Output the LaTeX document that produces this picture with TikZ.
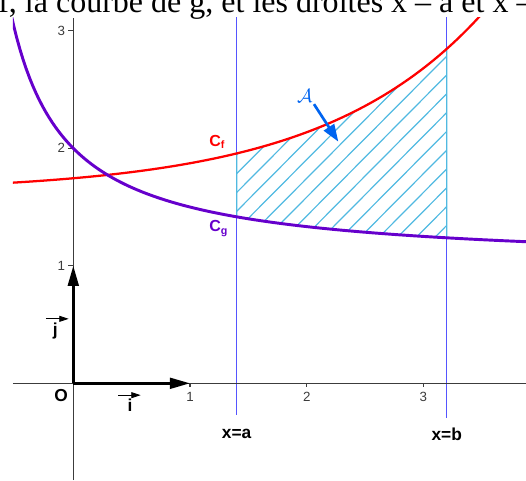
\documentclass[tikz,border=0pt]{standalone}
\usepackage{fontspec}
\setmainfont{Liberation Serif}
\setsansfont{Liberation Sans}
\usepackage{xcolor}
\definecolor{fred}{RGB}{255,0,0}
\definecolor{gpurple}{RGB}{102,0,204}
\definecolor{lineblue}{RGB}{85,85,255}
\definecolor{hatchblue}{RGB}{80,185,225}
\definecolor{areablue}{RGB}{0,100,240}
\definecolor{axisgray}{RGB}{60,60,60}
\usepackage{tikz}
\usetikzlibrary{arrows.meta}

\begin{document}
\begin{tikzpicture}[x=87.5pt,y=88.1pt,
  declare function={f(\x)=1.625+0.12*exp(0.725*\x); g(\x)=1+1/(\x+1);},
  axis/.style={draw=axisgray,line width=1pt},
  tickmark/.style={draw=axisgray,line width=0.8pt},
  ticklab/.style={font=\sffamily\fontsize{10}{12}\selectfont,text=axisgray,inner sep=0pt},
  lab/.style={font=\sffamily\bfseries\fontsize{13}{15}\selectfont,inner sep=0pt},
  unitvec/.style={line width=2pt,-{Triangle[length=15pt,width=8pt]}},
  vecbar/.style={line width=0.6pt,-{Triangle[length=7pt,width=4.5pt]}},
  bound/.style={draw=lineblue,line width=1.1pt},
  hatch/.style={draw=hatchblue,line width=0.9pt},
]
  \useasboundingbox (-0.628,-0.823) rectangle (3.879,3.262);

  %% caption line, cut by the page edge
  \node[anchor=base west,inner sep=0pt,font=\fontsize{24}{28}\selectfont] (caption)
    at (-0.645,3.156) {f, la courbe de g, et les droites x – a et x –};

  \begin{scope}
    \clip (-0.517,-0.823) rectangle (3.879,3.109);

    %% lines x=a and x=b
    \coordinate (atop) at (1.4,3.2);
    \coordinate (abot) at (1.4,-0.27);
    \coordinate (btop) at (3.2,3.2);
    \coordinate (bbot) at (3.2,-0.293);
    \draw[bound] (atop) -- (abot);
    \draw[bound] (btop) -- (bbot);

    %% hatched area between the curves
    \begin{scope}
      \clip plot[domain=1.4:3.2,samples=40] (\x,{f(\x)})
        -- plot[domain=3.2:1.4,samples=40] (\x,{g(\x)}) -- cycle;
      \foreach \k in {-10,...,14}
        \draw[hatch] (1.3,{1.3-0.576+0.16*\k}) -- (3.3,{3.3-0.576+0.16*\k});
    \end{scope}
    \draw[hatch] plot[domain=1.4:3.2,samples=40] (\x,{f(\x)})
      -- plot[domain=3.2:1.4,samples=40] (\x,{g(\x)}) -- cycle;

    %% axes and ticks
    \draw[axis] (-0.517,0) -- (3.879,0);
    \draw[axis] (0,-0.823) -- (0,3.109);
    \foreach \t in {1,2,3}{
      \draw[tickmark] (\t,0) -- (\t,-0.034);
      \node[ticklab,anchor=north] (xt\t) at (\t,-0.071) {\t};
      \draw[tickmark] (0,\t) -- (-0.043,\t);
      \node[ticklab,anchor=east] (yt\t) at (-0.069,\t) {\t};
    }

    %% curves
    \draw[fred,line width=1.7pt] plot[domain=-0.52:3.6,samples=80] (\x,{f(\x)});
    \draw[gpurple,line width=2.2pt] plot[domain=-0.54:3.9,samples=160] (\x,{g(\x)});
  \end{scope}

  %% unit vectors
  \coordinate (O) at (0,0);
  \coordinate (I) at (1,0);
  \coordinate (J) at (0,1);
  \draw[unitvec] (O) -- (I);
  \draw[unitvec] (O) -- (J);

  \node[lab] (olab) at (-0.105,-0.102) {O};
  \node[lab] (ilab) at (0.486,-0.185) {i};
  \draw[vecbar] ([xshift=-9pt,yshift=2.5pt]ilab.north) -- ([xshift=8pt,yshift=2.5pt]ilab.north);
  \node[lab] (jlab) at (-0.154,0.449) {j};
  \draw[vecbar] ([xshift=-7pt,yshift=2.5pt]jlab.north) -- ([xshift=10pt,yshift=2.5pt]jlab.north);

  %% curve names and line names
  \node[lab,text=fred,anchor=base west,font=\sffamily\bfseries\fontsize{12}{14}\selectfont] (cf)
    at (1.163,2.015) {C\textsubscript{f}};
  \node[lab,text=gpurple,anchor=base west,font=\sffamily\bfseries\fontsize{12}{14}\selectfont] (cg)
    at (1.163,1.288) {C\textsubscript{g}};
  \node[lab,anchor=base] (xalab) at (1.4,-0.468) {x=a};
  \node[lab,anchor=base] (xblab) at (3.2,-0.488) {x=b};

  %% area label
  \node[text=areablue,inner sep=1pt,font=\fontsize{14.6}{16}\selectfont] (alab)
    at (1.983,2.445) {$\mathcal{A}$};
  \coordinate (atip) at (2.271,2.056);
  \draw[areablue,line width=2pt,-{Triangle[length=13pt,width=9pt]}] (alab.south east) -- (atip);
\end{tikzpicture}
\end{document}
